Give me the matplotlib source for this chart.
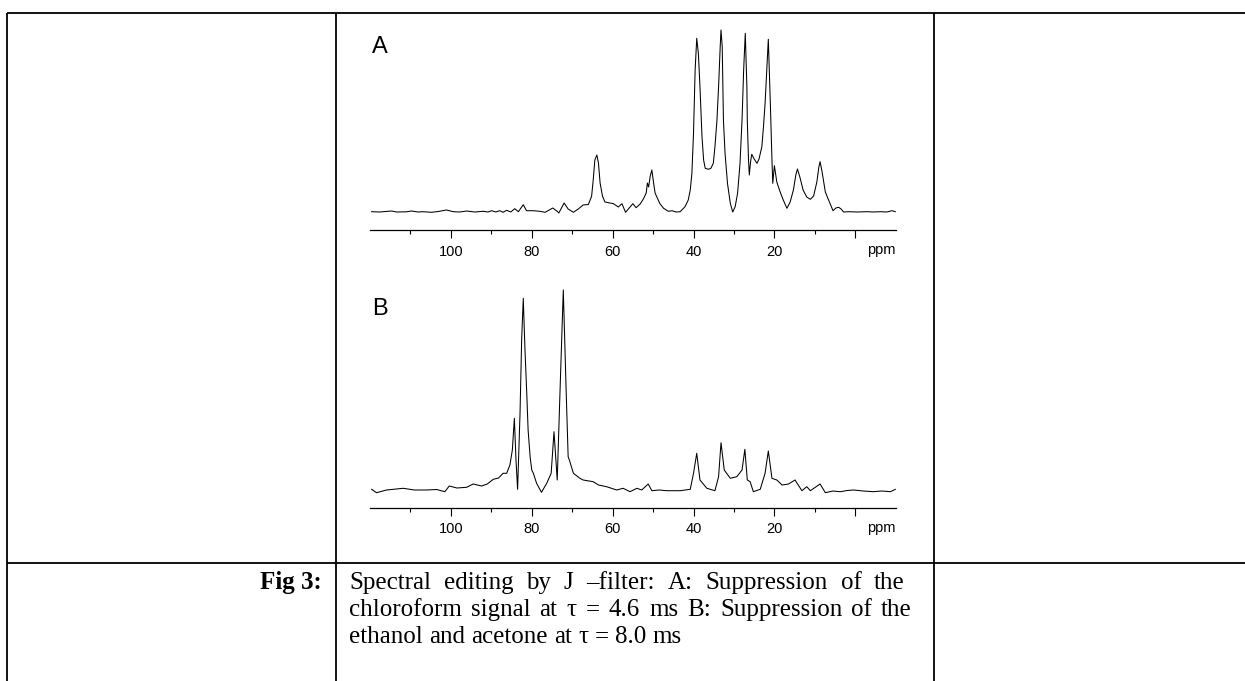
import matplotlib
matplotlib.use('Agg')
import matplotlib.pyplot as plt
from matplotlib.lines import Line2D

# ---------------- data ----------------
tick_values = [100, 80, 60, 40, 20, 0]
tick_labels = ['100', '80', '60', '40', '20', '']
minor_ticks = [110, 90, 70, 50, 30, 10]

# Spectrum A (chemical shift in ppm, intensity in arbitrary units)
ppm_a = [119.6, 117.6, 114.7, 113.4, 111.0, 109.7, 108.1, 106.9, 104.8, 103.1,
         101.1, 99.4, 97.8, 96.1, 94.1, 92.0, 90.8, 89.9, 88.9, 87.9,
         87.1, 86.2, 85.2, 84.2, 83.3, 82.1, 81.3, 79.6, 78.0, 76.7,
         74.8, 73.8, 73.3, 72.0, 71.0, 69.7, 68.5, 67.3, 66.0, 65.2,
         64.8, 64.4, 63.9, 63.5, 63.1, 62.5, 61.9, 59.8, 58.6, 57.7,
         56.8, 55.9, 55.0, 54.2, 53.2, 52.4, 51.7, 51.4, 51.1, 50.7,
         50.3, 49.9, 49.5, 49.1, 48.3, 47.4, 46.2, 45.3, 44.3, 43.3,
         42.1, 41.3, 40.8, 40.4, 40.0, 39.6, 39.2, 38.8, 38.4, 37.9,
         37.5, 37.1, 36.3, 35.7, 35.1, 34.7, 34.2, 33.8, 33.4, 33.2,
         32.9, 32.6, 32.2, 31.6, 30.9, 30.3, 29.7, 29.1, 28.5, 28.0,
         27.6, 27.2, 26.8, 26.7, 26.4, 26.2, 25.9, 25.6, 25.0, 24.3,
         23.8, 23.1, 22.7, 22.3, 21.9, 21.5, 21.0, 20.6, 20.4, 20.0,
         19.4, 18.6, 17.8, 16.9, 16.1, 15.3, 14.7, 14.3, 13.7, 12.9,
         12.0, 11.1, 10.3, 9.5, 9.0, 8.7, 8.2, 7.4, 6.6, 5.5,
         4.8, 4.1, 3.5, 2.9, 1.5, -0.4, -2.9, -4.5, -6.2, -7.8,
         -9.1, -9.9]
int_a = [0.3, 0.0, 1.0, 0.0, 0.2, 1.0, 0.0, 0.3, -0.3, 0.5,
         2.0, 0.3, 0.0, 1.0, 0.0, 0.7, 0.0, 1.3, 0.0, 1.3,
         -0.3, 1.7, 0.0, 3.3, 0.3, 7.3, 1.3, 1.3, 0.7, -0.3,
         4.0, 1.0, -1.0, 9.0, 3.0, -0.3, 3.0, 7.0, 7.5, 15.7,
         32.0, 52.0, 57.0, 48.7, 29.0, 15.7, 10.0, 8.3, 5.0, 8.3,
         -0.3, 4.0, 8.3, 4.3, 8.0, 13.0, 19.0, 29.0, 25.0, 36.0,
         42.0, 30.0, 19.0, 15.3, 8.3, 3.7, 0.7, 1.3, 0.0, 0.3,
         5.3, 12.0, 22.0, 38.7, 78.7, 142.0, 173.7, 158.7, 125.0, 75.3,
         52.0, 43.7, 42.7, 43.7, 48.7, 65.3, 92.0, 125.3, 165.3, 182.0,
         165.3, 92.0, 58.7, 28.7, 8.7, 0.0, 5.3, 18.7, 48.7, 92.0,
         142.0, 178.7, 125.3, 92.0, 52.0, 37.0, 50.0, 57.7, 53.0, 48.7,
         53.0, 65.3, 85.0, 108.7, 140.0, 172.7, 108.7, 52.0, 28.7, 46.3,
         30.0, 20.3, 12.0, 3.7, 10.0, 22.0, 37.0, 43.0, 35.0, 22.0,
         15.0, 12.7, 16.0, 30.0, 45.0, 50.3, 40.0, 20.0, 12.0, 1.3,
         4.0, 4.7, 3.0, 0.0, 0.3, 0.0, 0.3, 0.0, 0.3, 0.0,
         1.3, 0.3]

# Spectrum B
ppm_b = [119.6, 118.4, 115.9, 113.5, 111.8, 109.0, 106.0, 103.5, 101.5, 100.4,
         98.5, 96.1, 94.5, 92.4, 91.0, 89.5, 88.2, 87.1, 86.2, 85.4,
         84.8, 84.3, 83.9, 83.5, 82.9, 82.5, 82.1, 81.7, 81.2, 80.9,
         80.4, 80.0, 79.6, 78.8, 77.6, 76.3, 75.2, 74.5, 73.7, 73.0,
         72.6, 72.2, 71.8, 71.5, 71.0, 70.7, 69.7, 68.1, 67.3, 64.8,
         63.5, 61.5, 59.0, 57.4, 55.7, 54.0, 52.8, 51.2, 50.3, 48.5,
         46.6, 43.3, 40.8, 40.0, 39.2, 38.4, 36.7, 34.7, 33.8, 33.2,
         32.4, 30.9, 29.3, 28.0, 27.3, 26.7, 26.0, 25.2, 23.5, 22.3,
         21.5, 20.6, 19.4, 18.1, 16.5, 14.9, 13.2, 12.0, 11.1, 8.7,
         7.4, 5.5, 3.7, 2.0, 0.4, -2.0, -4.5, -6.5, -8.7, -9.9]
int_b = [0.7, -2.7, 0.0, 1.0, 1.7, 0.0, 0.0, 0.5, -1.7, 4.0,
         2.0, 2.7, 6.0, 4.0, 6.0, 10.7, 12.0, 16.7, 16.7, 25.0,
         40.0, 71.7, 30.0, 0.7, 76.7, 150.0, 191.7, 143.0, 93.0, 60.0,
         33.0, 20.0, 16.7, 6.7, -2.3, 6.7, 16.7, 58.3, 10.0, 100.0,
         150.0, 200.0, 143.0, 100.0, 33.3, 30.0, 16.7, 11.7, 10.0, 8.3,
         5.0, 3.3, 0.0, 1.7, -1.7, 1.7, 0.0, 6.0, -0.7, 0.0,
         -0.7, -0.7, 0.7, 16.7, 36.7, 10.0, 1.7, -0.7, 13.3, 47.3,
         20.0, 11.7, 13.3, 20.0, 40.7, 10.0, 8.3, -1.7, 0.7, 16.7,
         39.0, 11.7, 10.0, 5.0, 6.0, 10.0, -0.7, 3.3, -0.7, 6.0,
         -2.7, -1.0, -1.7, -0.5, 0.0, -1.0, -1.7, -1.0, -1.7, 0.7]

caption_head = 'Fig 3'
caption_lines = ['Spectral editing by J \u2013filter: A: Suppression of the',
                 'chloroform signal at \u03c4 = 4.6 ms B: Suppression of the',
                 'ethanol and acetone at \u03c4 = 8.0 ms']

# ---------------- layout ----------------
W, H = 1245, 681
fig = plt.figure(figsize=(W / 100, H / 100), dpi=100)
renderer = fig.canvas.get_renderer()


def fx(x):
    return x / W


def fy(y):
    return 1 - y / H


def add_panel(top, bottom, base, ppm, inten, label, label_xy):
    ax = fig.add_axes([fx(370), fy(bottom), fx(895.7) - fx(370), fy(top) - fy(bottom)])
    ax.plot(ppm, inten, color='black', lw=0.75)
    ax.set_xlim(120, -10)
    ax.set_ylim(-(bottom - base), base - top)
    for s in ['left', 'right', 'top']:
        ax.spines[s].set_visible(False)
    ax.spines['bottom'].set_linewidth(0.9)
    ax.set_yticks([])
    ax.set_xticks(tick_values)
    ax.set_xticklabels(tick_labels, fontfamily='Liberation Sans', fontsize=10.5)
    ax.set_xticks(minor_ticks, minor=True)
    ax.tick_params(axis='x', which='major', length=6, width=0.8, pad=4.5)
    ax.tick_params(axis='x', which='minor', length=3, width=0.8)
    ax.patch.set_alpha(0)
    fig.text(fx(label_xy[0]), fy(label_xy[1]), label, fontfamily='Liberation Sans',
             fontsize=17, ha='left', va='center')
    fig.text(fx(895.5), fy(bottom + 20), 'ppm', fontfamily='Liberation Sans',
             fontsize=10.5, ha='right', va='center')
    return ax


add_panel(25, 230, 212, ppm_a, int_a, 'A', (372, 47))
add_panel(280, 507.7, 490, ppm_b, int_b, 'B', (372, 308.5))

# table frame lines
lw = 1.3
frame = [((6.7, 1245), (13.2, 13.2)),
         ((6.7, 1245), (563, 563)),
         ((6.7, 6.7), (13.2, 681)),
         ((336, 336), (13.2, 681)),
         ((934, 934), (13.2, 681))]
for xs, ys in frame:
    fig.add_artist(Line2D([fx(xs[0]), fx(xs[1])], [fy(ys[0]), fy(ys[1])],
                          color='black', lw=lw, transform=fig.transFigure,
                          solid_capstyle='butt'))

# caption
cap_font = dict(fontfamily='Liberation Serif', fontsize=18, va='baseline')
fig.text(fx(322), fy(589), caption_head + ':', fontweight='bold', ha='right', **cap_font)


def place_line(text, x0, x1, y):
    words = text.split(' ')
    objs = [fig.text(0, fy(y), w, ha='left', **cap_font) for w in words]
    widths = [o.get_window_extent(renderer).width for o in objs]
    space = fig.text(0, 0, 'a a', **cap_font)
    nat_gap = space.get_window_extent(renderer).width - 2 * fig.text(
        0, 0, 'a', **cap_font).get_window_extent(renderer).width
    for t in fig.texts[-2:]:
        t.remove()
    if x1 is None:
        gap = nat_gap
    else:
        gap = (x1 - x0 - sum(widths)) / (len(words) - 1)
    x = x0
    for o, w in zip(objs, widths):
        o.set_x(fx(x))
        x += w + gap


line_ends = [905, 912, None]
for i, line in enumerate(caption_lines):
    place_line(line, 349, line_ends[i], 589 + 27 * i)

fig.savefig('out.png', dpi=100)
